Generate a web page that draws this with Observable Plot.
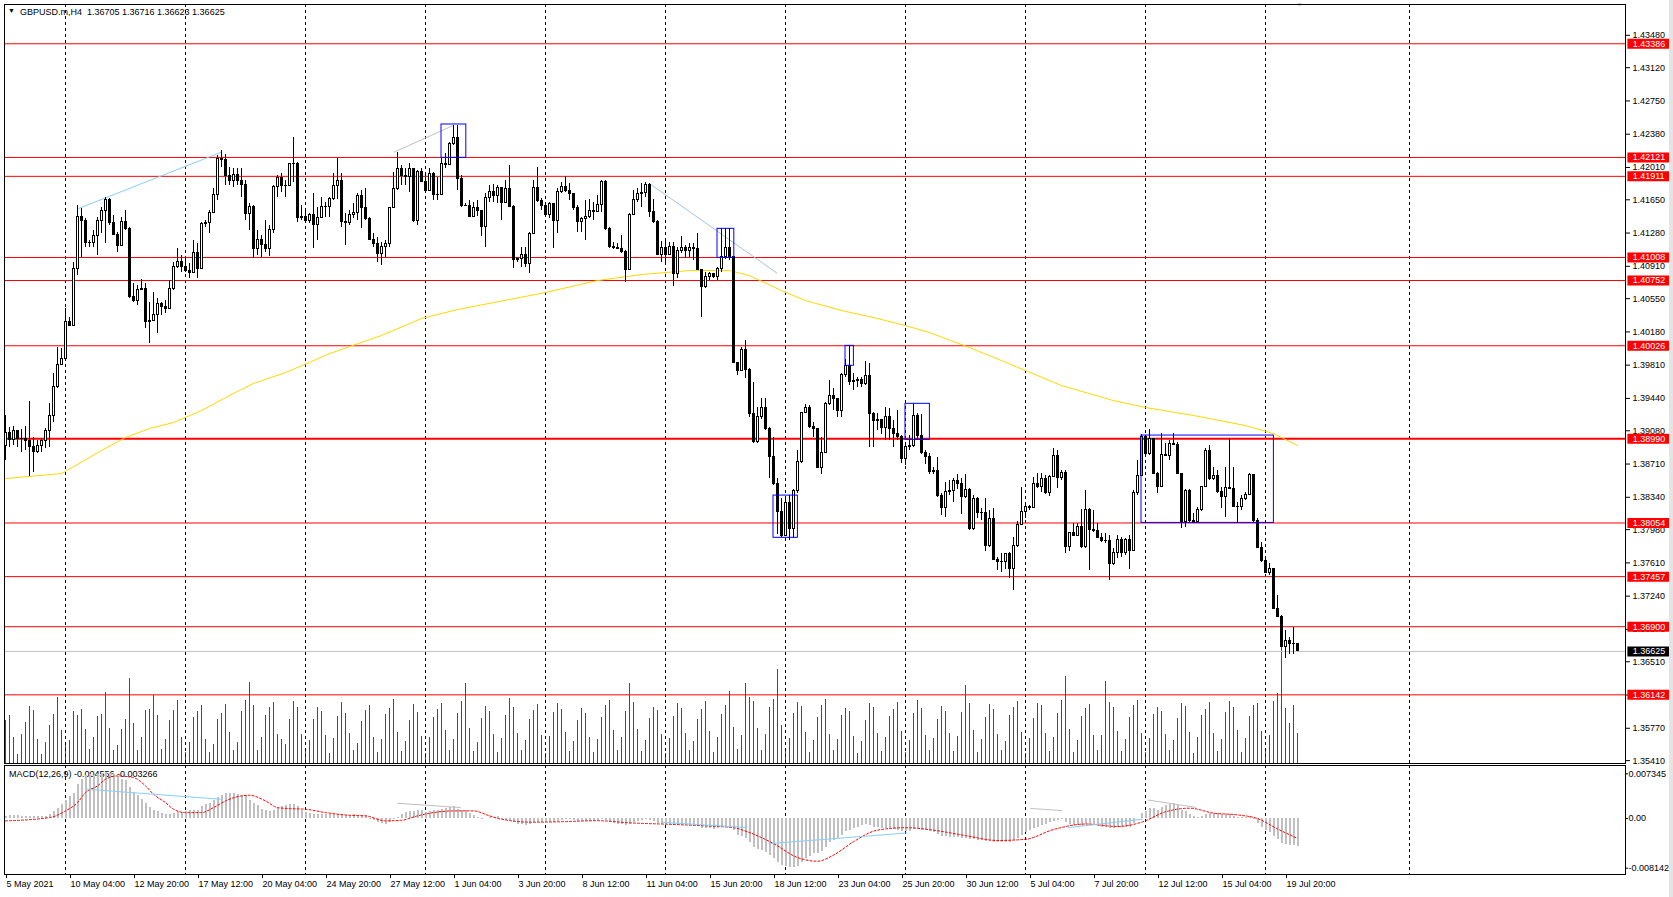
<!DOCTYPE html>
<html><head><meta charset="utf-8">
<script src="https://cdn.jsdelivr.net/npm/d3@7"></script>
<script src="https://cdn.jsdelivr.net/npm/@observablehq/plot@0.6"></script>
<style>
body{margin:0;background:#fff;font-family:"Liberation Sans",Arial,sans-serif;}
#wrap{position:relative;width:1673px;height:897px;overflow:hidden;background:#fff}
#wrap svg{position:absolute;left:0;overflow:visible}
.t{position:absolute;font-size:9px;white-space:pre;color:#000;line-height:10px}
</style></head><body><div id="wrap">
<div class="t" style="left:8px;top:6px;font-size:7px">▼</div>
<div class="t" style="left:20px;top:7px">GBPUSD.m,H4  1.36705 1.36716 1.36623 1.36625</div>
<div class="t" style="left:9px;top:769px">MACD(12,26,9) -0.004556 -0.003266</div>
<div class="t" style="left:1296px;top:0px;font-size:7px;color:#c8c8c8">▼</div>
<div style="position:absolute;left:1669px;top:0;width:4px;height:897px;background:#e4e4e4"></div>
</div>
<script>
// ---------- data ----------
const firstOpen = 1.38915;
const close = [1.39052,1.38978,1.39074,1.38985,1.38989,1.38963,1.38904,1.38848,1.38915,1.38963,1.39082,1.39249,1.39564,1.39813,1.39879,1.40287,1.40250,1.40881,1.41456,1.41419,
1.41167,1.41171,1.41252,1.41412,1.41523,1.41653,1.41393,1.41259,1.41137,1.41408,1.41323,1.40566,1.40529,1.40647,1.40658,1.40287,1.40299,1.40373,1.40492,1.40462,
1.40436,1.40658,1.40900,1.40963,1.40900,1.40855,1.40840,1.41055,1.40881,1.41382,1.41389,1.41501,1.41708,1.42105,1.42094,1.41920,1.41864,1.41931,1.41864,1.41820,
1.41493,1.41575,1.41104,1.41204,1.41152,1.41104,1.41315,1.41790,1.41894,1.41809,1.41800,1.42050,1.42045,1.41449,1.41456,1.41419,1.41486,1.41371,1.41449,1.41567,
1.41575,1.41660,1.41808,1.41856,1.41400,1.41393,1.41485,1.41500,1.41697,1.41560,1.41437,1.41203,1.41159,1.41048,1.41129,1.41159,1.41560,1.41771,1.41994,1.41920,
1.41901,1.41994,1.41411,1.41957,1.41853,1.41745,1.41938,1.41708,1.41704,1.42049,1.42040,1.42272,1.42339,1.41882,1.41586,1.41580,1.41463,1.41560,1.41530,1.41344,
1.41671,1.41741,1.41697,1.41782,1.41612,1.41771,1.41567,1.40981,1.40990,1.41040,1.40936,1.41270,1.41782,1.41634,1.41586,1.41485,1.41604,1.41419,1.41734,1.41797,
1.41753,1.41715,1.41556,1.41400,1.41437,1.41463,1.41523,1.41512,1.41593,1.41853,1.41326,1.41122,1.41115,1.41108,1.41066,1.40873,1.41485,1.41649,1.41715,1.41730,
1.41816,1.41512,1.41400,1.41040,1.41115,1.41040,1.41122,1.40825,1.41085,1.41115,1.41078,1.41115,1.41104,1.40870,1.40677,1.40788,1.40825,1.40788,1.40881,1.41018,
1.41115,1.41011,1.39831,1.39749,1.39979,1.39757,1.39267,1.38952,1.39230,1.39334,1.39100,1.38792,1.38488,1.38173,1.37913,1.38273,1.37987,1.38406,1.38729,1.39275,
1.39334,1.39119,1.39100,1.38666,1.38829,1.39378,1.39471,1.39434,1.39297,1.39705,1.39805,1.39620,1.39638,1.39650,1.39601,1.39686,1.39267,1.39193,1.39200,1.39111,
1.39230,1.39100,1.39044,1.39007,1.38766,1.38904,1.38915,1.39241,1.39026,1.38829,1.38792,1.38618,1.38629,1.38358,1.38221,1.38395,1.38406,1.38518,1.38488,1.38340,
1.38421,1.37988,1.38322,1.38162,1.38166,1.37795,1.38099,1.37646,1.37617,1.37625,1.37709,1.37542,1.37802,1.38036,1.38173,1.38229,1.38221,1.38488,1.38451,1.38544,
1.38385,1.38570,1.38804,1.38555,1.38607,1.37784,1.37939,1.37910,1.38014,1.37784,1.38199,1.37976,1.37969,1.37887,1.37858,1.37850,1.37598,1.37717,1.37865,1.37717,
1.37865,1.37746,1.38385,1.38581,1.39016,1.38822,1.38989,1.38600,1.38451,1.38815,1.38804,1.38934,1.38923,1.38600,1.38062,1.38414,1.38080,1.38062,1.38199,1.38451,
1.38859,1.38544,1.38581,1.38396,1.38348,1.38444,1.38433,1.38236,1.38229,1.38318,1.38370,1.38592,1.38073,1.37776,1.37628,1.37494,1.37542,1.37097,1.37012,1.36678,
1.36745,1.36708,1.36705,1.36625];
const high = [1.39249,1.39119,1.39126,1.39026,1.39089,1.39126,1.39404,1.39007,1.38970,1.38978,1.39100,1.39378,1.39712,1.40009,1.39991,1.40436,1.40343,1.40955,1.41586,1.41549,
1.41438,1.41196,1.41308,1.41456,1.41567,1.41679,1.41660,1.41475,1.41289,1.41456,1.41530,1.41340,1.40714,1.40696,1.40759,1.40714,1.40510,1.40621,1.40547,1.40510,
1.40529,1.40751,1.40955,1.41104,1.41029,1.41011,1.40937,1.41196,1.41159,1.41400,1.41419,1.41530,1.41771,1.42142,1.42198,1.42150,1.42013,1.41994,1.41994,1.41994,
1.41864,1.41604,1.41586,1.41308,1.41252,1.41419,1.41363,1.41809,1.41920,1.41938,1.41864,1.42057,1.42346,1.42068,1.41586,1.41549,1.41493,1.41723,1.41560,1.41679,
1.41623,1.41679,1.41938,1.42105,1.41938,1.41493,1.41530,1.41604,1.41715,1.41753,1.41771,1.41456,1.41270,1.41233,1.41178,1.41196,1.41567,1.41957,1.42179,1.42031,
1.41994,1.42057,1.41994,1.41975,1.41994,1.41938,1.41994,1.41957,1.41901,1.42105,1.42161,1.42291,1.42476,1.42476,1.41920,1.41604,1.41641,1.41623,1.41641,1.41530,
1.41715,1.41808,1.41819,1.41808,1.41790,1.41864,1.42031,1.41586,1.41011,1.41122,1.41122,1.41289,1.41864,1.42005,1.41660,1.41623,1.41623,1.41493,1.41771,1.41845,
1.41908,1.41827,1.41715,1.41586,1.41456,1.41641,1.41649,1.41623,1.41697,1.41864,1.41864,1.41344,1.41178,1.41159,1.41252,1.41085,1.41493,1.41753,1.41771,1.41827,
1.41846,1.41827,1.41649,1.41419,1.41189,1.41196,1.41178,1.41178,1.41122,1.41241,1.41141,1.41159,1.41159,1.41278,1.40870,1.40844,1.40844,1.40833,1.40900,1.41326,
1.41326,1.41326,1.41018,1.39824,1.40009,1.40083,1.39768,1.39620,1.39341,1.39434,1.39434,1.39119,1.39000,1.38544,1.38321,1.38321,1.38358,1.38432,1.38859,1.39286,
1.39371,1.39360,1.39174,1.39100,1.39007,1.39397,1.39638,1.39545,1.39434,1.39712,1.39868,1.40017,1.39712,1.39675,1.39668,1.39853,1.39824,1.39286,1.39267,1.39193,
1.39341,1.39323,1.39193,1.39304,1.39026,1.38933,1.39026,1.39386,1.39267,1.39260,1.38859,1.38822,1.38673,1.38785,1.38377,1.38507,1.38525,1.38544,1.38599,1.38544,
1.38592,1.38433,1.38359,1.38340,1.38210,1.38329,1.38192,1.38210,1.37672,1.37709,1.37716,1.37728,1.37895,1.38073,1.38444,1.38247,1.38247,1.38563,1.38607,1.38600,
1.38581,1.38581,1.38878,1.38860,1.38637,1.38637,1.37950,1.38043,1.38043,1.38199,1.38414,1.38210,1.38192,1.38043,1.37932,1.37939,1.37913,1.37765,1.37913,1.37895,
1.37876,1.37913,1.38414,1.38748,1.39038,1.39026,1.39090,1.38989,1.38618,1.39045,1.38934,1.38971,1.39045,1.38952,1.38607,1.38425,1.38422,1.38155,1.38229,1.38459,
1.38878,1.38915,1.38674,1.38637,1.38444,1.38674,1.38989,1.38674,1.38284,1.38359,1.38396,1.38607,1.38581,1.38099,1.37839,1.37672,1.37606,1.37542,1.37246,1.37023,
1.36856,1.36782,1.36893,1.36716];
const low = [1.38748,1.38896,1.38915,1.38896,1.38841,1.38859,1.38570,1.38618,1.38822,1.38841,1.38878,1.38896,1.39174,1.39545,1.39805,1.39916,1.40240,1.40250,1.40807,1.41011,
1.41122,1.41122,1.41122,1.41029,1.41271,1.41159,1.41363,1.41252,1.41067,1.41130,1.41308,1.40547,1.40510,1.40473,1.40640,1.40213,1.40046,1.40306,1.40158,1.40362,
1.40380,1.40436,1.40640,1.40881,1.40844,1.40840,1.40770,1.40825,1.40770,1.40870,1.41345,1.41271,1.41493,1.41642,1.42013,1.41809,1.41809,1.41790,1.41809,1.41679,
1.41419,1.41308,1.40992,1.41029,1.41011,1.41067,1.41018,1.41271,1.41679,1.41734,1.41679,1.41801,1.41846,1.41400,1.41419,1.41382,1.41382,1.41104,1.41196,1.41438,
1.41456,1.41456,1.41641,1.41649,1.41344,1.41140,1.41363,1.41437,1.41419,1.41326,1.41419,1.41196,1.41122,1.40955,1.40918,1.41011,1.41122,1.41549,1.41753,1.41808,
1.41808,1.41734,1.41400,1.41363,1.41845,1.41734,1.41790,1.41641,1.41641,1.41697,1.41994,1.42031,1.42253,1.41753,1.41567,1.41575,1.41456,1.41456,1.41463,1.41241,
1.41122,1.41623,1.41623,1.41604,1.41419,1.41604,1.41560,1.40881,1.40955,1.40899,1.40899,1.40825,1.41263,1.41623,1.41530,1.41456,1.41437,1.41103,1.41270,1.41715,
1.41734,1.41641,1.41530,1.41289,1.41289,1.41196,1.41437,1.41419,1.41512,1.41512,1.41307,1.41103,1.41092,1.41103,1.41055,1.40732,1.40862,1.41474,1.41623,1.41567,
1.41679,1.41456,1.41389,1.41029,1.40955,1.40937,1.41029,1.40684,1.40770,1.41048,1.40992,1.41011,1.40974,1.40862,1.40336,1.40658,1.40751,1.40770,1.40751,1.40844,
1.40981,1.40974,1.39824,1.39694,1.39742,1.39657,1.39230,1.38941,1.38941,1.39211,1.39082,1.38544,1.38469,1.37931,1.37894,1.37913,1.37857,1.37887,1.38377,1.38711,
1.39267,1.39100,1.39007,1.38655,1.38599,1.38822,1.39360,1.39304,1.39230,1.39230,1.39675,1.39582,1.39527,1.39564,1.39564,1.39582,1.38889,1.38889,1.39082,1.39044,
1.38970,1.38970,1.38896,1.38970,1.38711,1.38692,1.38859,1.38889,1.38970,1.38814,1.38703,1.38599,1.38599,1.38340,1.38136,1.38117,1.38358,1.38284,1.38432,1.38154,
1.38321,1.37969,1.37969,1.38099,1.38080,1.37739,1.37784,1.37635,1.37524,1.37505,1.37542,1.37431,1.37301,1.37784,1.38025,1.38099,1.38192,1.38210,1.38433,1.38396,
1.38370,1.38348,1.38563,1.38433,1.38526,1.37717,1.37739,1.37902,1.37939,1.37765,1.37765,1.37524,1.37950,1.37876,1.37839,1.37821,1.37413,1.37579,1.37654,1.37672,
1.37690,1.37542,1.37754,1.38359,1.38570,1.38785,1.38800,1.38592,1.38385,1.38444,1.38793,1.38748,1.38915,1.38592,1.37988,1.38006,1.38062,1.38043,1.38080,1.38184,
1.38444,1.38526,1.38526,1.38385,1.38210,1.38117,1.38422,1.38229,1.38043,1.38192,1.38303,1.38359,1.38062,1.37765,1.37617,1.37487,1.37468,1.37086,1.37005,1.36671,
1.36541,1.36596,1.36596,1.36623];
// tick volume per bar
const volume = [4270,4770,2600,930,2870,4100,5670,5270,2430,930,2100,3770,4870,6600,3270,2100,2270,5200,4770,5430,
3370,1370,2600,4670,4930,7100,3530,1330,1770,3370,4370,8500,4000,1330,2600,5270,5370,6830,4770,1370,
2370,4270,5270,6270,2600,1100,2100,4600,5170,5770,2430,1100,1930,4430,5030,5870,3100,1330,2100,5200,
6270,8100,5770,1330,2600,4830,5600,6100,2930,2370,1930,4370,6170,5600,2900,
1200,2300,4400,5600,5200,2800, 1000,2500,4700,6100,5000,3000, 1300,2000,4200,5300,5800,2600, 1100,2400,4900,5500,6400,3100,
1200,2200,4300,5900,5100,2700, 1000,2600,4600,5400,6000,3300, 1300,2400,5000,6200,8000,3500, 1200,2100,4500,5700,5200,2900,
1100,2500,4800,6500,5600,3000, 1300,2300,4400,5300,5900,2800, 1000,2700,5100,6000,5400,3100, 1200,2200,4300,5500,5000,2600,
1100,2400,4600,5800,6300,3300, 1300,2600,5200,8000,6100,3400, 1200,2300,4500,5600,5300,2900, 1000,2500,4700,6000,5500,3000,
1300,2200,4400,5400,6200,3200, 1100,2600,4900,5800,7200,3600, 1400,2800,8000,6600,6200,3500, 1300,2900,5600,6400,9400,3800,
1200,2500,5000,6100,5700,3100, 1100,2300,4600,5800,6400,2900, 1300,2400,4800,5500,5200,2700, 1000,2200,4300,6000,5600,3000,
1200,2600,4700,5400,6100,3200, 1100,2300,5000,6300,5500,2800, 1300,2500,4400,5700,5200,3000, 1200,2700,5100,7800,6000,3300,
1100,2400,4600,5900,5400,2900, 1300,2200,4800,5600,6200,3100, 1000,2500,4500,6000,5800,3000, 1200,2600,5000,6300,8700,3400,
1100,2300,4700,5500,5900,2800, 1300,2800,8200,6100,5600,3200, 1200,2400,4600,5800,6300,3000, 1100,2500,4900,5600,5200,2900,
1300,2300,4500,6000,5700,3100, 1000,2600,4800,5400,6100,3000, 1200,2400,5100,6200,5600,3300, 1100,2500,4700,5800,6000,3200,
1300,2800,6200,7000,12000,5500, 4000,5800,3000];
// MACD main (histogram) per bar
const macd = [0.00040,0.00044,0.00044,0.00044,0.00040,0.00040,0.00027,0.00027,0.00027,0.00027,0.00030,0.00060,0.00115,0.00164,0.00224,0.00290,0.00356,0.00416,0.00563,0.00645,
0.00700,0.00717,0.00700,0.00717,0.00738,0.00755,0.00744,0.00717,0.00684,0.00645,0.00618,0.00509,0.00427,0.00372,0.00317,0.00246,0.00180,0.00126,0.00109,0.00088,
0.00071,0.00060,0.00082,0.00098,0.00098,0.00109,0.00126,0.00137,0.00137,0.00191,0.00224,0.00246,0.00290,0.00345,0.00383,0.00410,0.00410,0.00416,0.00400,0.00383,
0.00372,0.00301,0.00246,0.00208,0.00153,0.00126,0.00109,0.00137,0.00180,0.00191,0.00208,0.00224,0.00235,0.00191,0.00137,0.00098,0.00082,0.00071,0.00060,0.00060,
0.00060,0.00071,0.00071,0.00071,0.00060,0.00055,0.00055,0.00060,0.00055,0.00044,0.00044,-0.00011,-0.00038,-0.00066,-0.00082,-0.00093,-0.00066,-0.00011,0.00016,0.00071,
0.00098,0.00115,0.00115,0.00126,0.00126,0.00098,0.00115,0.00126,0.00137,0.00153,0.00170,0.00180,0.00191,0.00153,0.00137,0.00126,0.00082,0.00044,0.00016,-0.00011,
0.00005,0.00016,0.00016,0.00027,-0.0002,-0.0003,-0.0003,-0.0006,-0.0009,-0.0010,-0.0011,-0.0010,-0.0007,-0.0006,-0.0006,-0.0007,-0.0006,-0.0007,-0.0005,-0.0003,
-0.0002,-0.0002,-0.0003,-0.0005,-0.0005,-0.0005,-0.0005,-0.0004,-0.0003,-0.0001,-0.0003,-0.0006,-0.0008,-0.0009,-0.0010,-0.0012,-0.0009,-0.0006,-0.0004,-0.0003,
-0.0002,-0.0003,-0.0005,-0.0008,-0.0009,-0.0010,-0.0010,-0.0012,-0.0012,-0.0012,-0.0012,-0.0012,-0.0012,-0.0013,-0.0016,-0.0017,-0.0017,-0.0018,-0.0017,-0.0015,
-0.0013,-0.0013,-0.0020,-0.0027,-0.0029,-0.0033,-0.0040,-0.0047,-0.0050,-0.0052,-0.0055,-0.0060,-0.0066,-0.0072,-0.0077,-0.0078,-0.0080,-0.0081,-0.0078,-0.0072,
-0.0066,-0.0062,-0.0058,-0.0057,-0.0054,-0.0047,-0.0040,-0.0036,-0.0033,-0.0027,-0.0022,-0.0019,-0.0016,-0.0014,-0.0012,-0.0010,-0.0012,-0.0014,-0.0015,-0.0016,
-0.0016,-0.0017,-0.0018,-0.0019,-0.0021,-0.0021,-0.0021,-0.0018,-0.0018,-0.0019,-0.0020,-0.0022,-0.0023,-0.0026,-0.0029,-0.0030,-0.0031,-0.0031,-0.0031,-0.0032,
-0.0032,-0.0035,-0.0035,-0.0036,-0.0036,-0.0038,-0.0037,-0.0039,-0.0040,-0.0040,-0.0039,-0.0039,-0.0036,-0.0032,-0.0027,-0.0023,-0.0020,-0.0016,-0.0014,-0.0011,
-0.0010,-0.0007,-0.0004,-0.0003,-0.0002,-0.0007,-0.0009,-0.0011,-0.0011,-0.0013,-0.0010,-0.0011,-0.0012,-0.0013,-0.0014,-0.0014,-0.0016,-0.0016,-0.0015,-0.0015,
-0.0014,-0.0015,-0.0008,0.0000,0.0008,0.0012,0.0016,0.0016,0.0014,0.0018,0.0021,0.0023,0.0024,0.0021,0.0013,0.0011,0.0006,0.0003,0.0002,0.0003,
0.0007,0.0008,0.0009,0.0008,0.0006,0.0006,0.0006,0.0004,0.0002,0.0001,0.0001,0.0003,-0.0002,-0.0008,-0.0014,-0.0020,-0.0023,-0.0030,-0.0035,-0.0041,
-0.0043,-0.0045,-0.0045,-0.004556];
// MACD signal line (sampled bars)
const sigIdx = [0,11,15,18,20,23,25,28,32,35,37,40,42,45,49,52,55,59,61,65,68,71,75,80,86,90,95,99,103,107,112,117,121,124,132,140,148,156,164,175,182,186,192,198,203,207,212,218,225,232,240,248,255,262,270,278,284,290,296,302,308,313,318,323];
const sigVal = [-0.00038,0.00016,0.00126,0.00262,0.00426,0.00536,0.00645,0.00700,0.00672,0.00536,0.00399,0.00262,0.00153,0.00098,0.00098,0.00180,0.00290,0.00372,0.00382,0.00290,0.00180,0.00164,0.00153,0.00098,0.00054,0.00044,-0.00038,-0.00028,0.00044,0.00098,0.00126,0.00126,0.00044,-0.00011,-0.00060,-0.00050,-0.00035,-0.00070,-0.00090,-0.00120,-0.00150,-0.00230,-0.00410,-0.00640,-0.00700,-0.00600,-0.00380,-0.00190,-0.00150,-0.00190,-0.00280,-0.00360,-0.00340,-0.00180,-0.00090,-0.00130,-0.00060,0.00110,0.00170,0.00090,0.00060,0.00000,-0.00170,-0.003266];
// 200-period moving average (sampled bars)
const maIdx = [0,14,24,30,36,42,49,56,62,70,76,81,94,104,113,135,148,159,171,181,186,194,200,209,217,225,231,241,249,264,277,285,297,310,317,323];
const maVal = [1.38548,1.38604,1.38860,1.39005,1.39105,1.39172,1.39305,1.39472,1.39606,1.39728,1.39840,1.39939,1.40140,1.40329,1.40429,1.40618,1.40752,1.40819,1.40863,1.40863,1.40807,1.40640,1.40529,1.40418,1.40340,1.40251,1.40173,1.40006,1.39861,1.39583,1.39416,1.39339,1.39250,1.39138,1.39049,1.38916];
const levels = [1.43386,1.42121,1.41911,1.41008,1.40752,1.40026,1.38990,1.38054,1.37457,1.36900,1.36142];
const mainLevel = 1.38990;
const bid = 1.36625;
const priceTicks = [1.43480,1.43120,1.42750,1.42380,1.42010,1.41650,1.41280,1.40910,1.40550,1.40180,1.39810,1.39440,1.39080,1.38710,1.38340,1.37980,1.37610,1.37240,1.36870,1.36510,1.36140,1.35770,1.35410];
const boxI1 = [109,178,210,192,225,284];
const boxI2 = [115.2,182.2,212.1,198.1,231.1,317.1];
const boxTop = [1.42488,1.41327,1.40025,1.38359,1.39380,1.39027];
const boxBot = [1.42117,1.41004,1.39803,1.37889,1.38979,1.38055];
const trI1 = [18.1,97.1,161.1];
const trP1 = [1.41550,1.42179,1.41828];
const trI2 = [53.9,111.9,192.9];
const trP2 = [1.42179,1.42476,1.40833];
const trColor = ["#87cefa","#c0c0c0","#a9bfdc"];
const mtI1 = [20.4,97.9,164.2,190.8,256.2,265.6,285.6];
const mtV1 = [0.00481,0.00252,-0.00062,-0.00412,0.00166,-0.00149,0.00305];
const mtI2 = [53.8,113.8,185.5,225.5,264.2,284.2,297.6];
const mtV2 = [0.00317,0.00180,-0.00148,-0.00236,0.00131,-0.00010,0.00184];
const mtColor = ["#87cefa","#c0c0c0","#87cefa","#87cefa","#c0c0c0","#87cefa","#c0c0c0"];
const gridIdx = [15,45,75,105,135,165,195,225,255,285,315,351];
const labelIdx = [0,16,32,48,64,80,96,112,128,144,160,176,192,208,224,240,256,272,288,304,320];
const tickLabels = ["5 May 2021","10 May 04:00","12 May 20:00","17 May 12:00","20 May 04:00","24 May 20:00","27 May 12:00","1 Jun 04:00","3 Jun 20:00","8 Jun 12:00","11 Jun 04:00","15 Jun 20:00","18 Jun 12:00","23 Jun 04:00","25 Jun 20:00","30 Jun 12:00","5 Jul 04:00","7 Jul 20:00","12 Jul 12:00","15 Jul 04:00","19 Jul 20:00"];
const macdTicks = [0.007345, 0, -0.008142];
const macdTickText = ["0.007345","0.00","-0.008142"];

// ---------- build ----------
const bars = close.map((c,i)=>({i, o: i ? close[i-1] : firstOpen, c, h: high[i], l: low[i]}));
const boxes = boxI1.map((d,k)=>({x1:d, x2:boxI2[k], y1:boxTop[k], y2:boxBot[k]}));
const trends = trI1.map((d,k)=>({x1:d, y1:trP1[k], x2:trI2[k], y2:trP2[k], c:trColor[k]}));
const mtrends = mtI1.map((d,k)=>({x1:d, y1:mtV1[k], x2:mtI2[k], y2:mtV2[k], c:mtColor[k]}));
const ma = maIdx.map((d,k)=>({i:d, v:maVal[k]}));
const sig = sigIdx.map((d,k)=>({i:d, v:sigVal[k]}));
const W = 1673, XD = [-0.25, 405];
const style = {background:"transparent", fontFamily:"Liberation Sans, Arial, sans-serif", fontSize:"9px", color:"#000", overflow:"visible"};
const wrap = document.getElementById("wrap");

const volPlot = Plot.plot({
  width:W, height:766, marginTop:4, marginBottom:3, marginLeft:4, marginRight:48, style,
  x:{domain:XD, axis:null}, y:{domain:[0,75900], axis:null},
  marks:[Plot.ruleX(volume, {x:(d,i)=>i, y1:0, y2:d=>d, stroke:"#008000", shapeRendering:"crispEdges"})]
});
volPlot.style.top = "0px"; wrap.appendChild(volPlot);

const mainPlot = Plot.plot({
  width:W, height:766, marginTop:4, marginBottom:3, marginLeft:4, marginRight:48, style,
  x:{domain:XD, axis:null}, y:{domain:[1.35378,1.43823], axis:null},
  marks:[
    Plot.ruleX(gridIdx, {x:d=>d, stroke:"#000", strokeDasharray:"3,3", shapeRendering:"crispEdges"}),
    Plot.ruleY([bid], {y:d=>d, stroke:"#c0c0c0"}),
    Plot.ruleY(levels, {y:d=>d, stroke:"#ff0000", strokeWidth:d=>d===mainLevel?2:1}),
    Plot.line(ma, {x:"i", y:"v", stroke:"#ffd700", strokeWidth:1}),
    Plot.link(trends, {x1:"x1", y1:"y1", x2:"x2", y2:"y2", stroke:"c"}),
    Plot.ruleX(bars, {x:"i", y1:d=>Math.min(d.l,d.o,d.c), y2:d=>Math.max(d.h,d.o,d.c), stroke:"#000", shapeRendering:"crispEdges"}),
    Plot.rect(bars, {x1:d=>d.i-0.25, x2:d=>d.i+0.25, y1:"o", y2:"c", fill:d=>d.c>=d.o?"#fff":"#000", stroke:"#000", shapeRendering:"crispEdges"}),
    Plot.rect(boxes, {x1:"x1", x2:"x2", y1:"y1", y2:"y2", fill:"none", stroke:"#0000ff"}),
    Plot.frame({stroke:"#000"}),
    Plot.axisY(priceTicks, {anchor:"right", tickSize:4, tickPadding:3, tickFormat:d=>d.toFixed(5), fontSize:9}),
    Plot.ruleY(levels, {y:d=>d, x1:405.6, x2:416.0, stroke:"#ff0000", strokeWidth:10}),
    Plot.text(levels, {y:d=>d, x:406.8, text:d=>d.toFixed(5), textAnchor:"start", fill:"#fff", fontSize:9}),
    Plot.ruleY([bid], {y:d=>d, x1:405.6, x2:416.0, stroke:"#000", strokeWidth:10}),
    Plot.text([bid], {y:d=>d, x:406.8, text:d=>d.toFixed(5), textAnchor:"start", fill:"#fff", fontSize:9})
  ]
});
mainPlot.style.top = "0px"; wrap.appendChild(mainPlot);

const macdPlot = Plot.plot({
  width:W, height:135, marginTop:3, marginBottom:23, marginLeft:4, marginRight:48, style,
  x:{domain:XD, axis:null}, y:{domain:[-0.00918,0.00871], axis:null},
  marks:[
    Plot.ruleX(gridIdx, {x:d=>d, stroke:"#000", strokeDasharray:"3,3", shapeRendering:"crispEdges"}),
    Plot.ruleX(macd, {x:(d,i)=>i, y1:0, y2:d=>d, stroke:"#c0c0c0", strokeWidth:2, shapeRendering:"crispEdges"}),
    Plot.line(sig, {x:"i", y:"v", stroke:"#ff0000", strokeDasharray:"2,2", strokeWidth:1, curve:"monotone-x"}),
    Plot.link(mtrends, {x1:"x1", y1:"y1", x2:"x2", y2:"y2", stroke:"c"}),
    Plot.frame({stroke:"#000"}),
    Plot.axisY(macdTicks, {anchor:"right", tickSize:2, tickPadding:1, tickFormat:(d)=>macdTickText[macdTicks.indexOf(d)], fontSize:9}),
    Plot.axisX(labelIdx, {anchor:"bottom", tickSize:4, tickPadding:2, textAnchor:"start", dx:1, tickFormat:d=>tickLabels[labelIdx.indexOf(d)], fontSize:9})
  ]
});
macdPlot.style.top = "762px"; wrap.appendChild(macdPlot);
</script></body></html>
